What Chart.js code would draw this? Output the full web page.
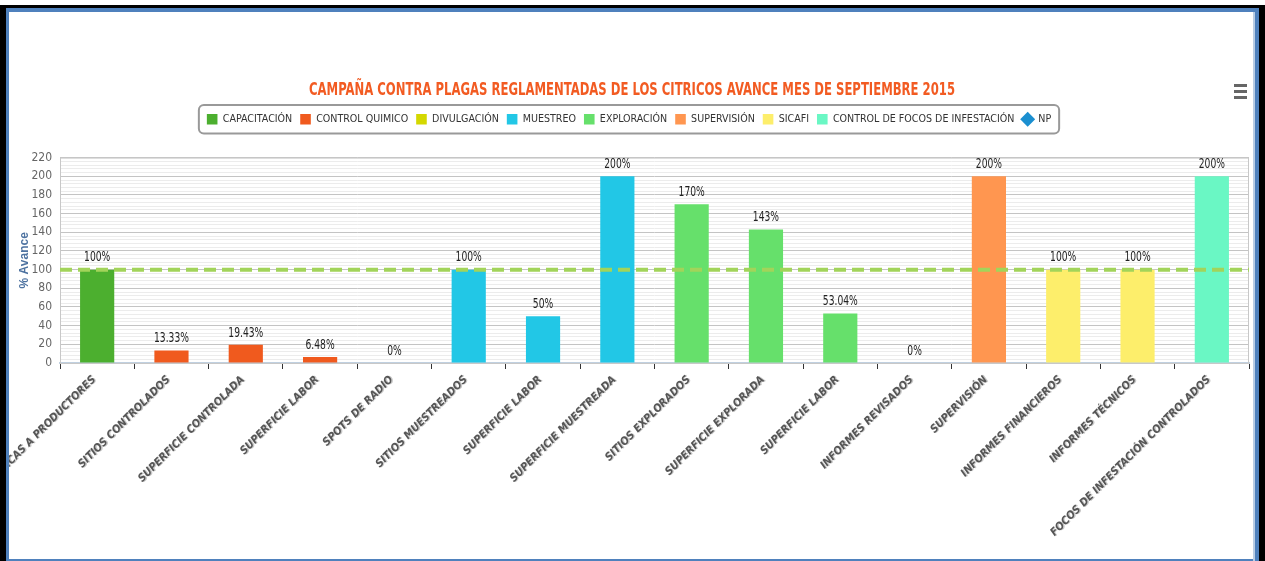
<!DOCTYPE html>
<html>
<head>
<meta charset="utf-8">
<script src="https://cdn.jsdelivr.net/npm/chart.js@4/dist/chart.umd.min.js"></script>
<style>
  body { margin: 0; background: #fff; }
  #wrap { position: relative; width: 1265px; height: 561px; }
</style>
</head>
<body>
<div id="wrap"><canvas id="myChart"></canvas></div>
<script>
const categories = ['PLÁTICAS A PRODUCTORES', 'SITIOS CONTROLADOS', 'SUPERFICIE CONTROLADA', 'SUPERFICIE LABOR',
    'SPOTS DE RADIO', 'SITIOS MUESTREADOS', 'SUPERFICIE LABOR', 'SUPERFICIE MUESTREADA', 'SITIOS EXPLORADOS',
    'SUPERFICIE EXPLORADA', 'SUPERFICIE LABOR', 'INFORMES REVISADOS', 'SUPERVISIÓN', 'INFORMES FINANCIEROS',
    'INFORMES TÉCNICOS', 'FOCOS DE INFESTACIÓN CONTROLADOS']

const seriesNames = ['CAPACITACIÓN', 'CONTROL QUIMICO', 'DIVULGACIÓN', 'MUESTREO', 'EXPLORACIÓN',
    'SUPERVISIÓN', 'SICAFI', 'CONTROL DE FOCOS DE INFESTACIÓN']
const seriesColors = ['#4caf2f', '#f05a1e', '#d4d800', '#22c7e6', '#66e06b', '#ff9650', '#fdee6b', '#6af7c4']

// which series each category belongs to, and its % value
const categorySeries = [0, 1, 1, 1, 2, 3, 3, 3, 4, 4, 4, 5, 5, 6, 6, 7]
const values = [100, 13.33, 19.43, 6.48, 0, 100, 50, 200, 170, 143, 53.04, 0, 200, 100, 100, 200]
const valueLabels = ['100%', '13.33%', '19.43%', '6.48%', '0%', '100%', '50%', '200%', '170%', '143%',
    '53.04%', '0%', '200%', '100%', '100%', '200%']

const titleText = 'CAMPAÑA CONTRA PLAGAS REGLAMENTADAS DE LOS CITRICOS AVANCE MES DE SEPTIEMBRE 2015'
const targetLine = 100
const yTicks = { min: 0, max: 220, major: 20, minor: 4 }

const condensed = "'Liberation Sans Narrow', 'DejaVu Sans Condensed', 'Arial Narrow', sans-serif"

const datasets = seriesNames.map((name, s) => ({
    label: name,
    data: values.map((v, i) => categorySeries[i] === s ? v : null),
    backgroundColor: seriesColors[s],
    borderWidth: 0
}))
// NP only shows up in the legend
datasets.push({ type: 'scatter', label: 'NP', data: [], backgroundColor: '#1b8fd0', pointStyle: 'rectRot' })

// extras: title, target line, value labels, x labels, plot border, legend box, frame
const extras = {
    id: 'extras',
    afterInit(chart) {
        // leave some room under the legend
        const fit = chart.legend.fit
        chart.legend.fit = function () {
            fit.call(this)
            this.height += 23
        }
    },
    beforeDatasetsDraw(chart) {
        const { ctx, chartArea: a } = chart
        ctx.save()
        ctx.strokeStyle = '#c8c8c8'
        ctx.lineWidth = 1
        ctx.strokeRect(a.left + 0.5, a.top + 0.5, a.right - a.left - 1, a.bottom - a.top)
        ctx.restore()
    },
    afterDatasetsDraw(chart) {
        const { ctx, chartArea: a, scales } = chart
        const y = scales.y.getPixelForValue(targetLine)
        ctx.save()
        ctx.strokeStyle = '#a2d45a'
        ctx.lineWidth = 4
        ctx.setLineDash([12, 6])
        ctx.beginPath()
        ctx.moveTo(a.left, y)
        ctx.lineTo(a.right, y)
        ctx.stroke()
        ctx.setLineDash([])

        ctx.font = '12px ' + condensed
        ctx.fillStyle = '#222'
        ctx.textAlign = 'center'
        ctx.textBaseline = 'bottom'
        values.forEach((v, i) => {
            const x = scales.x.getPixelForValue(i)
            ctx.save()
            ctx.translate(x, scales.y.getPixelForValue(v) - 5)
            ctx.scale(0.85, 1.1)
            ctx.fillText(valueLabels[i], 0, 0)
            ctx.restore()
        })

        ctx.font = 'italic bold 11px ' + condensed
        ctx.textAlign = 'right'
        ctx.textBaseline = 'middle'
        categories.forEach((c, i) => {
            const x = scales.x.getPixelForValue(i)
            ctx.save()
            ctx.translate(x - 3, a.bottom + 15)
            ctx.rotate(-Math.PI / 4)
            ctx.fillStyle = 'rgba(0,0,0,0.22)'
            ctx.fillText(c, 1, 1)
            ctx.fillStyle = '#555'
            ctx.fillText(c, 0, 0)
            ctx.restore()
        })
        ctx.restore()
    },
    afterDraw(chart) {
        const { ctx } = chart
        ctx.save()
        // title, squeezed like the original narrow face
        ctx.font = 'bold 17px ' + condensed
        ctx.fillStyle = '#f25b22'
        ctx.textAlign = 'center'
        ctx.textBaseline = 'middle'
        const w = ctx.measureText(titleText).width
        ctx.translate(632, 91)
        ctx.scale(646 / w, 1)
        ctx.fillText(titleText, 0, 0)
        ctx.setTransform(1, 0, 0, 1, 0, 0)

        const boxes = chart.legend.legendHitBoxes
        if (boxes && boxes.length) {
            const l = Math.min(...boxes.map(b => b.left)) - 8
            const r = Math.max(...boxes.map(b => b.left + b.width)) + 8
            const t = boxes[0].top - 9
            const h = boxes[0].height + 18
            ctx.strokeStyle = '#999'
            ctx.lineWidth = 2
            ctx.beginPath()
            ctx.roundRect(l, t, r - l, h, 5)
            ctx.stroke()
        }
        // menu icon
        ctx.fillStyle = '#666'
        for (let k = 0; k < 3; k++) ctx.fillRect(1234, 84 + k * 6, 13, 3)
        // frame
        const W = chart.width, H = chart.height
        ctx.fillStyle = '#000'
        ctx.fillRect(0, 5, W, 3)
        ctx.fillRect(0, 5, 6, H)
        ctx.fillRect(W - 6, 5, 6, H)
        ctx.fillStyle = '#4f81bd'
        ctx.fillRect(6, 8, W - 12, 4)
        ctx.fillRect(6, 8, 3, H)
        ctx.fillRect(W - 10, 8, 4, H)
        ctx.fillRect(6, H - 2, W - 12, 2)
        ctx.fillStyle = '#b8cce4'
        ctx.fillRect(W - 12, 12, 2, H)
        ctx.restore()
    }
}

const ctx = document.getElementById('myChart').getContext('2d')
const myChart = new Chart(ctx, {
    type: 'bar',
    data: { labels: categories, datasets: datasets },
    plugins: [extras],
    options: {
        responsive: true,
        maintainAspectRatio: false,
        animation: false,
        layout: { padding: { left: 9, right: 16, top: 106, bottom: 0 } },
        datasets: { bar: { grouped: false, categoryPercentage: 1, barPercentage: 0.46 } },
        plugins: {
            tooltip: { enabled: false },
            title: { display: false },
            legend: {
                labels: {
                    color: '#333',
                    font: { family: condensed, size: 10.6 },
                    usePointStyle: true,
                    boxWidth: 12,
                    boxHeight: 12,
                    padding: 8,
                    generateLabels(chart) {
                        return chart.data.datasets.map((d, i) => ({
                            text: d.label,
                            fillStyle: d.backgroundColor,
                            strokeStyle: d.backgroundColor,
                            lineWidth: 0,
                            pointStyle: d.pointStyle || 'rect',
                            fontColor: '#333',
                            datasetIndex: i
                        }))
                    }
                }
            }
        },
        scales: {
            x: {
                grid: { display: true, drawOnChartArea: false, drawTicks: true, tickLength: 6, color: '#333', offset: true },
                border: { color: '#c0d0e0', width: 2 },
                ticks: { display: false },
                afterFit: s => { s.height = 198 }
            },
            y: {
                min: yTicks.min,
                max: yTicks.max,
                afterFit: s => { s.width = 51 },
                border: { display: false },
                grid: {
                    drawTicks: false,
                    color: c => (c.tick.value % yTicks.major === 0 ? '#c4c4c4' : '#ececec')
                },
                ticks: {
                    count: (yTicks.max - yTicks.min) / yTicks.minor + 1,
                    autoSkip: false,
                    padding: 8,
                    color: '#666',
                    font: { family: condensed, size: 12 },
                    callback: v => (Math.round(v) % yTicks.major === 0 ? Math.round(v) : '')
                },
                title: {
                    display: true,
                    text: '% Avance',
                    color: '#4d72a0',
                    font: { family: 'Arial, sans-serif', size: 12, weight: 'bold' },
                    padding: { top: 8, bottom: 0 }
                }
            }
        }
    }
})
</script>
</body>
</html>
